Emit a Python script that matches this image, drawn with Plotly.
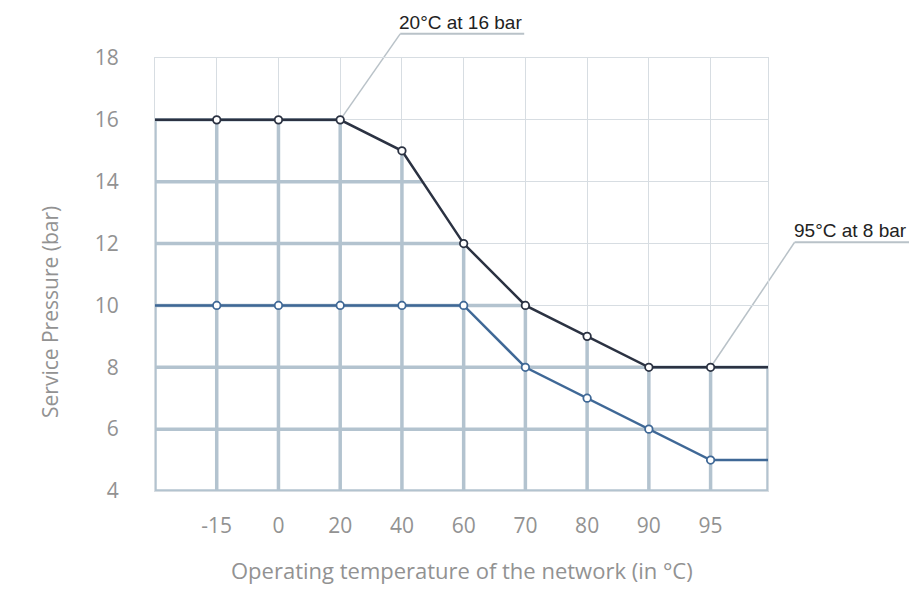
import plotly.graph_objects as go

# ---- data ----
temps = ["-15", "0", "20", "40", "60", "70", "80", "90", "95"]
upper = [16, 16, 16, 15, 12, 10, 9, 8, 8]
lower = [10, 10, 10, 10, 10, 8, 7, 6, 5]
y_ticks = [4, 6, 8, 10, 12, 14, 16, 18]
x_title = "Operating temperature of the network (in °C)"
y_title = "Service Pressure (bar)"
note_text = ["20°C at 16 bar", "95°C at 8 bar"]
note_temp = ["20", "95"]
note_val = [16, 8]

# ---- styles ----
DARK = "#2b3242"
BLUE = "#3f6896"
THICK = "#b3c3cf"
THIN = "#d7dde2"
GREY_TXT = "#929292"
LEADER = "#b9c2c8"

idx = list(range(len(temps)))
X0, X1 = -1, len(temps) - 1 + 0.93
Y0, Y1 = y_ticks[0], y_ticks[-1]

xs_ext = [X0] + idx + [X1]
up_ext = [upper[0]] + upper + [upper[-1]]
lo_ext = [lower[0]] + lower + [lower[-1]]

# thick grid under the upper curve
gx, gy = [], []
for x, top in zip(xs_ext, up_ext):
    gx += [x, x, None]
    gy += [Y0, top, None]
for L in y_ticks:
    if L > max(upper):
        continue
    if up_ext[-1] >= L:
        xend = X1
    else:
        xend = X0
        for i in range(len(xs_ext) - 1):
            a, b = up_ext[i], up_ext[i + 1]
            if a >= L > b:
                xend = xs_ext[i] + (a - L) / (a - b) * (xs_ext[i + 1] - xs_ext[i])
                break
    gx += [X0, xend, None]
    gy += [L, L, None]

fig = go.Figure()
fig.add_trace(go.Scatter(x=gx, y=gy, mode="lines", line=dict(color=THICK, width=3.5),
                         hoverinfo="skip", showlegend=False))
for ext, vals, col in [(up_ext, upper, DARK), (lo_ext, lower, BLUE)]:
    fig.add_trace(go.Scatter(x=xs_ext, y=ext, mode="lines", line=dict(color=col, width=2.5),
                             hoverinfo="skip", showlegend=False))
    fig.add_trace(go.Scatter(x=idx, y=vals, mode="markers",
                             marker=dict(size=7.5, color="white", line=dict(color=col, width=1.8)),
                             showlegend=False))

# callouts (paper-referenced so they are not clipped)
leaders = [(60, 86, 124), (84, 125, 115)]
for txt, t, v, (dx, dy, w) in zip(note_text, note_temp, note_val, leaders):
    xi = temps.index(t)
    px = (xi - X0) / (X1 - X0)
    py = (v - Y0) / (Y1 - Y0)
    fig.add_shape(type="line", xref="paper", yref="paper", xsizemode="pixel", ysizemode="pixel",
                  xanchor=px, yanchor=py, x0=0, y0=0, x1=dx, y1=dy,
                  line=dict(color=LEADER, width=1.5), layer="below")
    fig.add_shape(type="line", xref="paper", yref="paper", xsizemode="pixel", ysizemode="pixel",
                  xanchor=px, yanchor=py, x0=dx, y0=dy, x1=dx + w, y1=dy,
                  line=dict(color=LEADER, width=2))
    fig.add_annotation(x=px, y=py, xref="paper", yref="paper", text=txt, showarrow=False,
                       xanchor="left", yanchor="bottom", xshift=dx - 3, yshift=dy - 1,
                       font=dict(family="Liberation Sans, Arial", size=19, color="#222222"))

fig.add_annotation(text=y_title, xref="paper", yref="paper", x=0, y=0, xshift=-105, yshift=179,
                   textangle=-90, showarrow=False, xanchor="center", yanchor="middle",
                   font=dict(family="Open Sans", size=21, color=GREY_TXT))
fig.add_annotation(text=x_title, xref="paper", yref="paper", x=0.5, y=0, yshift=-79,
                   showarrow=False, xanchor="center", yanchor="middle",
                   font=dict(family="Open Sans", size=22, color=GREY_TXT))

fig.update_xaxes(range=[X0, X1], tickmode="array", tickvals=idx, ticktext=temps,
                 showgrid=True, gridcolor=THIN, gridwidth=1, zeroline=False,
                 showline=True, mirror=True, linecolor=THIN, linewidth=1,
                 ticks="", ticklabelstandoff=16,
                 tickfont=dict(family="Open Sans", size=21, color=GREY_TXT))
fig.update_yaxes(range=[Y0, Y1], tickmode="array", tickvals=y_ticks,
                 showgrid=True, gridcolor=THIN, gridwidth=1, zeroline=False,
                 showline=True, mirror=True, linecolor=THIN, linewidth=1,
                 ticks="", ticklabelstandoff=31,
                 tickfont=dict(family="Open Sans", size=21, color=GREY_TXT))

fig.update_layout(width=909, height=589, margin=dict(l=155, r=141, t=58, b=98),
                  plot_bgcolor="white", paper_bgcolor="white", hovermode=False)

fig.write_html("out.html", config={"displayModeBar": False},
               post_script="document.body.style.margin='0';document.body.style.overflow='hidden';")
